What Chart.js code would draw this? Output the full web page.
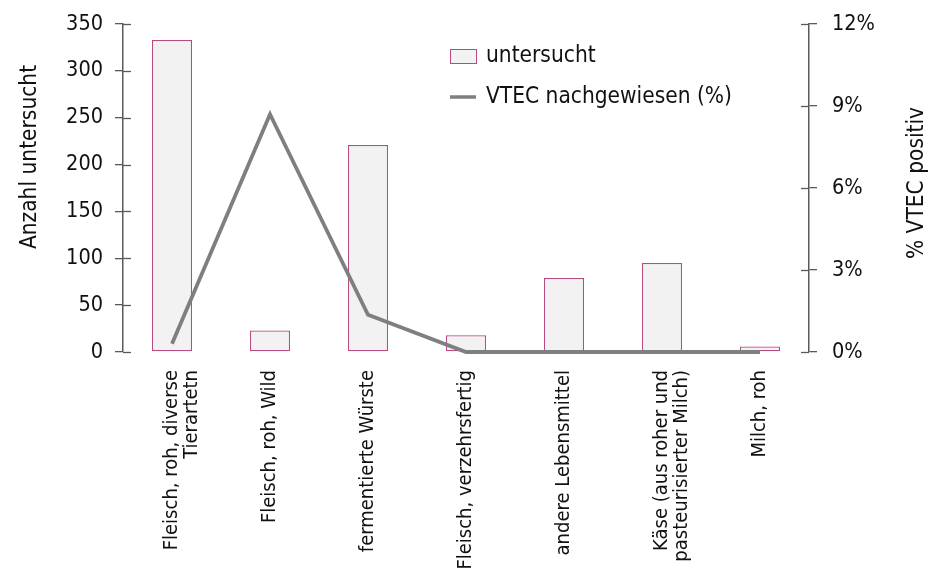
<!DOCTYPE html>
<html lang="de">
<head>
<meta charset="utf-8">
<script src="https://cdn.jsdelivr.net/npm/chart.js@4"></script>
<style>
  html, body { margin: 0; padding: 0; background: #fff; }
  #wrap { width: 931px; height: 568px; }
</style>
</head>
<body>
<div id="wrap"><canvas id="vtec-chart" width="931" height="568"></canvas></div>
<script>
// Untersuchte Proben je Lebensmittelgruppe und Anteil VTEC-positiver Proben

const categories = [
    ['Fleisch, roh, diverse', 'Tierartetn'],
    'Fleisch, roh, Wild',
    'fermentierte Würste',
    'Fleisch, verzehrsfertig',
    'andere Lebensmittel',
    ['Käse (aus roher und', 'pasteurisierter Milch)'],
    'Milch, roh'
];
const untersucht = [333, 23, 221, 18, 79, 95, 6];
const vtecPositiv = [0.3, 8.7, 1.36, 0, 0, 0, 0];

const countTicks = [0, 50, 100, 150, 200, 250, 300, 350];
const percentTicks = [0, 3, 6, 9, 12];

const FONT = "'DejaVu Sans Condensed', 'DejaVu Sans', sans-serif";
const AXIS_GRAY = '#5a5a5a';
const BAR_FILL = '#f2f2f2';
const BAR_EDGE = '#b94a82';
const LINE_GRAY = '#7f7f7f';

Chart.defaults.font.family = FONT;
Chart.defaults.font.size = 21.5;
Chart.defaults.color = '#111';

// tick marks that cross the axis line: Chart.js draws the outer half, this adds the inner half
const crossTicks = {
    id: 'crossTicks',
    afterDraw(chart) {
        const ctx = chart.ctx;
        ctx.save();
        ctx.strokeStyle = AXIS_GRAY;
        ctx.lineWidth = 1.3;
        [['y', 1], ['y1', -1]].forEach(([id, dir]) => {
            const scale = chart.scales[id];
            const x0 = id === 'y' ? scale.right : scale.left;
            scale.ticks.forEach((t, i) => {
                const y = Math.round(scale.getPixelForTick(i)) + 0.5;
                ctx.beginPath();
                ctx.moveTo(x0, y);
                ctx.lineTo(x0 + dir * 8, y);
                ctx.stroke();
            });
        });
        ctx.restore();
    }
};

// axis titles (both read bottom to top) and the legend inside the plot
const annotations = {
    id: 'annotations',
    afterDraw(chart) {
        const ctx = chart.ctx;
        ctx.save();
        ctx.fillStyle = '#111';
        ctx.font = '22.5px ' + FONT;
        ctx.textAlign = 'center';
        ctx.textBaseline = 'middle';

        ctx.save();
        ctx.translate(30, 157);
        ctx.rotate(-Math.PI / 2);
        ctx.fillText('Anzahl untersucht', 0, 0);
        ctx.restore();

        ctx.save();
        ctx.translate(917, 183);
        ctx.rotate(-Math.PI / 2);
        ctx.fillText('% VTEC positiv', 0, 0);
        ctx.restore();

        // legend
        ctx.textAlign = 'left';
        ctx.fillStyle = BAR_FILL;
        ctx.fillRect(450.5, 49.5, 26, 14);
        ctx.strokeStyle = BAR_EDGE;
        ctx.lineWidth = 1;
        ctx.strokeRect(450.5, 49.5, 26, 14);
        ctx.fillStyle = '#111';
        ctx.fillText(chart.data.datasets[0].label, 486, 56);

        ctx.strokeStyle = LINE_GRAY;
        ctx.lineWidth = 3.5;
        ctx.beginPath();
        ctx.moveTo(450, 97);
        ctx.lineTo(476, 97);
        ctx.stroke();
        ctx.fillText(chart.data.datasets[1].label, 486, 97);
        ctx.restore();
    }
};

new Chart(document.getElementById('vtec-chart'), {
    data: {
        labels: categories,
        datasets: [
            {
                type: 'bar',
                label: 'untersucht',
                data: untersucht,
                yAxisID: 'y',
                backgroundColor: BAR_FILL,
                borderColor: BAR_EDGE,
                borderWidth: 1.3,
                borderSkipped: false,
                categoryPercentage: 1,
                barPercentage: 0.41,
                order: 2
            },
            {
                type: 'line',
                label: 'VTEC nachgewiesen (%)',
                data: vtecPositiv,
                yAxisID: 'y1',
                borderColor: LINE_GRAY,
                borderWidth: 3.8,
                pointRadius: 0,
                tension: 0,
                clip: 6,
                order: 1
            }
        ]
    },
    options: {
        responsive: false,
        animation: false,
        layout: { padding: { top: 24, left: 0, right: 0, bottom: 0 } },
        plugins: {
            legend: { display: false },
            tooltip: { enabled: false }
        },
        scales: {
            x: {
                grid: { display: false },
                border: { display: false },
                ticks: {
                    autoSkip: false,
                    minRotation: 90,
                    maxRotation: 90,
                    padding: 10,
                    font: { size: 20, lineHeight: 1.0 }
                },
                afterFit(scale) {
                    scale.height = 568 - 352;
                    scale.paddingLeft = 0;
                    scale.paddingRight = 0;
                }
            },
            y: {
                position: 'left',
                min: 0,
                max: 350,
                afterBuildTicks(scale) { scale.ticks = countTicks.map(v => ({ value: v })); },
                grid: { drawOnChartArea: false, drawTicks: true, tickLength: 8, color: AXIS_GRAY, lineWidth: 1.3 },
                border: { display: true, color: AXIS_GRAY, width: 1.5 },
                ticks: { padding: 12 },
                afterFit(scale) {
                    scale.width = 123;
                    scale.paddingTop = 0;
                    scale.paddingBottom = 0;
                }
            },
            y1: {
                position: 'right',
                min: 0,
                max: 12,
                afterBuildTicks(scale) { scale.ticks = percentTicks.map(v => ({ value: v })); },
                grid: { drawOnChartArea: false, drawTicks: true, tickLength: 8, color: AXIS_GRAY, lineWidth: 1.3 },
                border: { display: true, color: AXIS_GRAY, width: 1.5 },
                ticks: { padding: 15, callback: v => v + '%' },
                afterFit(scale) {
                    scale.width = 931 - 809;
                    scale.paddingTop = 0;
                    scale.paddingBottom = 0;
                }
            }
        }
    },
    plugins: [crossTicks, annotations]
});
</script>
</body>
</html>
